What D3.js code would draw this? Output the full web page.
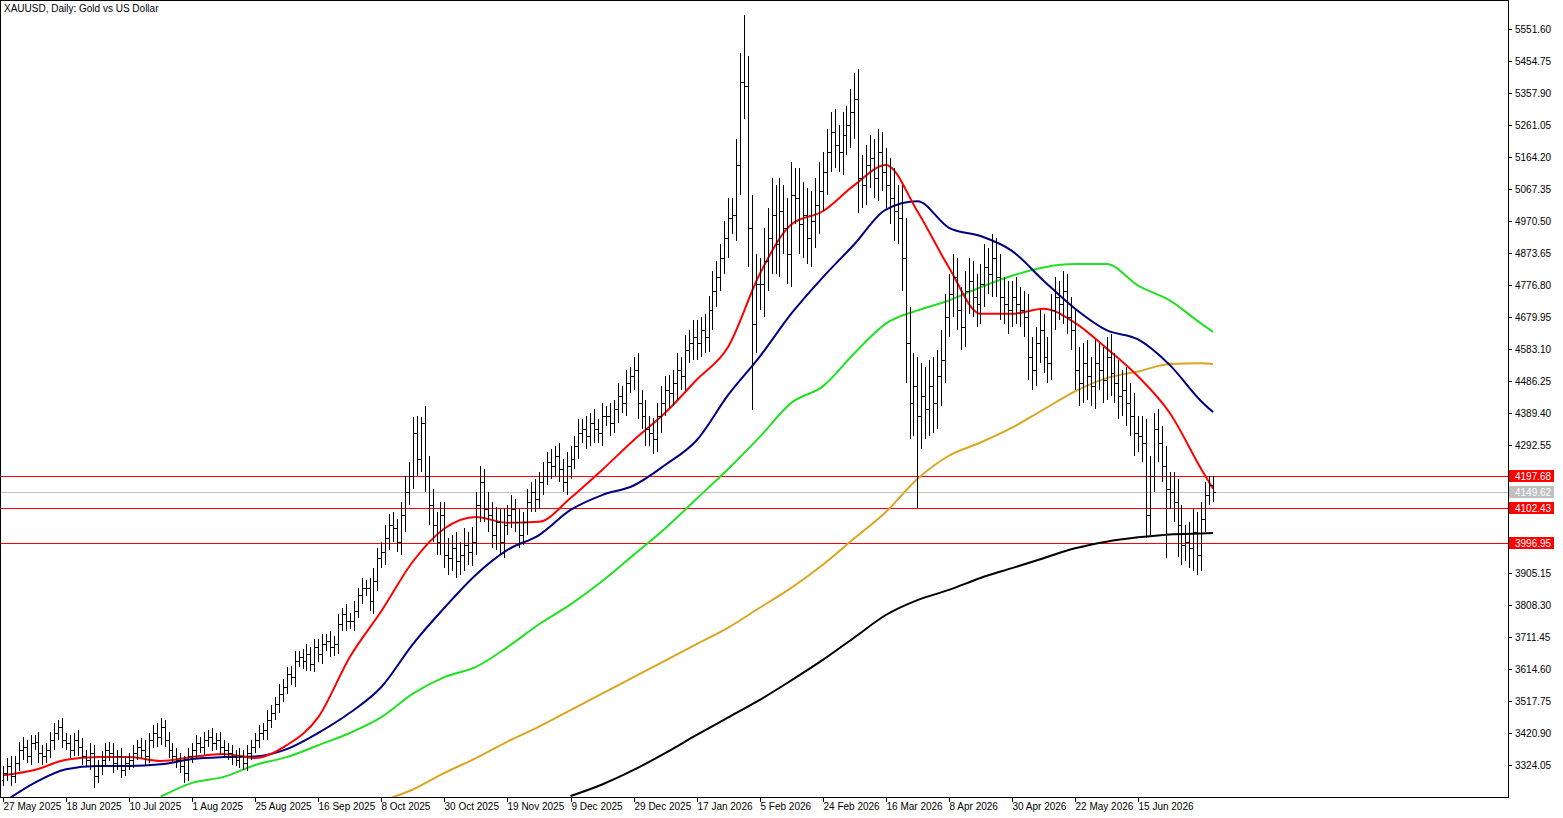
<!DOCTYPE html>
<html><head><meta charset="utf-8">
<script src="https://cdn.jsdelivr.net/npm/d3@7/dist/d3.min.js"></script>
<style>body{margin:0;background:#fff}svg{display:block}text{font-family:"Liberation Sans",Arial,sans-serif;font-size:10px}</style>
</head><body><svg id="c" width="1563" height="818"></svg>
<script>
const title = "XAUUSD, Daily:  Gold vs US Dollar";
const closes = [
3300,3320,3290,3330,3370,3380,3350,3390,3395,3360,3350,3370,3400,3420,3440,3400,
3390,3370,3400,3380,3350,3340,3360,3290,3320,3340,3370,3360,3330,3350,3310,3330,
3340,3360,3380,3370,3350,3400,3420,3410,3440,3400,3370,3350,3340,3320,3300,3350,
3370,3390,3380,3400,3410,3390,3400,3380,3370,3360,3350,3340,3350,3330,3360,3380,
3400,3420,3430,3460,3480,3510,3540,3560,3600,3590,3640,3650,3640,3660,3630,3680,
3660,3690,3700,3680,3690,3750,3780,3760,3760,3790,3840,3860,3860,3820,3880,3950,
3970,4010,4050,4040,4000,4080,4150,4200,4330,4250,4360,4200,4110,4050,4000,4080,
3960,3950,3980,3940,3960,3990,3970,4000,4110,4180,4100,4080,4020,4060,4000,4050,
4080,4100,4060,4020,4060,4120,4150,4130,4180,4200,4240,4230,4260,4220,4180,4230,
4250,4290,4330,4340,4320,4360,4340,4330,4380,4380,4360,4400,4440,4420,4480,4500,
4520,4420,4380,4340,4330,4310,4380,4420,4460,4450,4480,4520,4500,4580,4600,4620,
4600,4640,4620,4700,4760,4800,4860,4920,4980,4990,5140,5390,5380,4950,4660,4780,
4780,4850,4920,4990,4900,5000,4950,4870,5050,5040,4960,4990,4920,4970,5020,5060,
5120,5180,5240,5200,5180,5230,5260,5300,5340,5100,5080,5140,5160,5100,5180,5120,
5080,5040,5000,4980,4860,4600,4420,4470,4380,4440,4400,4470,4420,4500,4550,4680,
4750,4800,4700,4650,4760,4790,4740,4720,4780,4830,4810,4860,4800,4740,4720,4700,
4740,4720,4700,4680,4560,4520,4600,4640,4560,4540,4700,4740,4720,4760,4680,4640,
4520,4480,4540,4500,4470,4540,4520,4490,4560,4510,4480,4440,4460,4420,4380,4330,
4320,4300,4080,4200,4340,4300,4230,4160,4150,4120,4050,3990,4000,3980,4030,3960,4070,4140,4170,4150];
const wicks = [
20,25,30,20,25,30,20,25,20,30,25,20,25,30,20,25,
20,25,20,30,25,20,30,25,20,25,20,25,30,20,25,20,
20,25,20,25,30,20,25,30,25,20,25,20,25,20,30,25,
20,25,20,25,20,25,20,25,20,20,25,20,25,20,25,20,
20,25,20,30,25,20,30,25,20,25,30,20,25,30,20,25,
25,30,20,30,25,30,20,30,25,30,20,30,25,30,40,30,
30,40,35,40,30,40,50,40,40,50,40,50,60,50,40,40,
40,50,40,50,40,50,40,45,40,50,40,50,40,45,40,50,
30,40,30,40,30,40,30,40,30,40,30,40,30,40,30,40,
40,30,40,30,40,30,40,30,40,30,40,30,40,30,40,30,
40,50,40,50,40,45,40,50,40,45,40,50,40,45,40,50,
50,40,50,45,60,50,40,50,60,50,80,90,100,120,100,90,
80,100,90,110,90,100,80,90,100,80,90,100,80,90,80,90,
60,70,60,70,60,70,60,70,80,90,70,60,70,60,70,60,
70,80,90,80,100,120,110,100,90,100,90,80,90,80,90,70,
60,70,60,70,60,70,60,70,60,70,60,70,60,70,60,70,
50,60,50,60,70,60,50,60,50,60,50,60,50,60,50,60,
60,70,60,70,60,70,60,70,60,70,60,70,60,70,60,70,
50,60,70,60,50,60,50,60,50,60,70,60,50,60,70,60,50,40,30,30];
const highOverrides = [[104,4377],[106,4377],[188,5594],[189,5470],[216,5418]];
const lowOverrides = [[23,3255],[190,4398],[217,4995],[232,4102],[295,3950],[298,3955]];

const maIdx = [0,8,16,24,32,40,48,56,64,72,80,88,96,104,112,120,128,136,144,152,160,168,176,184,192,200,208,216,224,232,240,248,256,264,272,280,288,296,304,307];
const maRed = [3293,3309,3340,3348,3348,3336,3348,3357,3345,3384,3469,3651,3790,3940,4040,4075,4057,4060,4132,4217,4307,4390,4490,4590,4810,4960,5000,5079,5140,5000,4830,4690,4690,4705,4662,4585,4500,4390,4220,4160];
const maBlue = [3210,3270,3311,3321,3321,3326,3342,3348,3350,3372,3421,3482,3560,3690,3800,3900,3975,4020,4096,4141,4170,4232,4307,4444,4560,4690,4800,4900,5005,5030,4950,4925,4880,4790,4705,4640,4612,4535,4425,4392];
const maGreen = [null,null,null,null,null,3228,3270,3288,3324,3348,3384,3421,3469,3540,3590,3621,3681,3750,3810,3880,3960,4040,4130,4220,4317,4420,4470,4570,4660,4700,4730,4770,4805,4830,4840,4840,4775,4730,4660,4635];
const maOrange = [null,null,null,null,null,null,null,null,null,null,null,null,3215,3250,3300,3345,3395,3440,3490,3540,3590,3640,3690,3740,3800,3860,3930,4010,4090,4190,4260,4300,4345,4400,4455,4495,4515,4538,4540,4538];
const maBlack = [null,null,null,null,null,null,null,null,null,null,null,null,null,null,null,null,null,null,3230,3265,3309,3360,3415,3468,3521,3580,3642,3710,3778,3823,3854,3890,3920,3950,3980,4000,4013,4022,4025,4026];

const levels = [4197.68,4102.43,3996.95];
const currentPrice = 4149.62;
const yTicks = [3324.05,3420.90,3517.75,3614.60,3711.45,3808.30,3905.15,4292.55,4389.40,4486.25,4583.10,4679.95,4776.80,4873.65,4970.50,5067.35,5164.20,5261.05,5357.90,5454.75,5551.60];
const xTickIdx = [0,16,32,48,64,80,96,112,128,144,160,176,192,208,224,240,256,272,288];
const xTickLabels = ['27 May 2025','18 Jun 2025','10 Jul 2025','1 Aug 2025','25 Aug 2025','16 Sep 2025','8 Oct 2025','30 Oct 2025','19 Nov 2025','9 Dec 2025','29 Dec 2025','17 Jan 2026','5 Feb 2026','24 Feb 2026','16 Mar 2026','8 Apr 2026','30 Apr 2026','22 May 2026','15 Jun 2026'];

const W=1508,H=797;
const svg=d3.select('#c');
const x=d3.scaleLinear().domain([0,307]).range([3,1213]);
const y=d3.scaleLinear().domain([3324.05,5551.6]).range([765,29]);
svg.append('defs').append('clipPath').attr('id','cp').append('rect').attr('x',1).attr('y',1).attr('width',W-1).attr('height',H-1);
const g=svg.append('g').attr('clip-path','url(#cp)');

// level lines
levels.forEach(v=>g.append('line').attr('x1',0).attr('x2',W).attr('y1',Math.round(y(v))+0.5).attr('y2',Math.round(y(v))+0.5).attr('stroke','#ff0000'));
g.append('line').attr('x1',0).attr('x2',W).attr('y1',Math.round(y(currentPrice))+0.5).attr('y2',Math.round(y(currentPrice))+0.5).attr('stroke','#c0c0c0');

// MAs
const line=d3.line().defined(d=>d[1]!=null).x(d=>x(d[0])).y(d=>y(d[1])).curve(d3.curveMonotoneX);
[[maOrange,'#daa520'],[maBlack,'#000000'],[maGreen,'#22e022'],[maBlue,'#000080'],[maRed,'#ff0000']].forEach(([arr,col])=>{
  g.append('path').attr('d',line(maIdx.map((i,k)=>[i,arr[k]]))).attr('fill','none').attr('stroke',col).attr('stroke-width',2);
});

// bars
const hmap=new Map(highOverrides), lmap=new Map(lowOverrides);
const bars=g.append('g').attr('stroke','#000').attr('shape-rendering','crispEdges');
closes.forEach((c,i)=>{
  const o=i>0?closes[i-1]:c-20;
  const hi=hmap.has(i)?hmap.get(i):Math.max(o,c)+wicks[i];
  const lo=lmap.has(i)?lmap.get(i):Math.min(o,c)-wicks[i];
  const xi=Math.round(x(i))+0.5;
  bars.append('line').attr('x1',xi).attr('x2',xi).attr('y1',y(hi)).attr('y2',y(lo));
  bars.append('line').attr('x1',xi-2).attr('x2',xi).attr('y1',Math.round(y(o))+0.5).attr('y2',Math.round(y(o))+0.5);
  bars.append('line').attr('x1',xi).attr('x2',xi+2).attr('y1',Math.round(y(c))+0.5).attr('y2',Math.round(y(c))+0.5);
});

// frame
svg.append('rect').attr('x',0.5).attr('y',0.5).attr('width',W).attr('height',H).attr('fill','none').attr('stroke','#000');
svg.append('text').attr('x',4).attr('y',12).text(title);

// right axis
const ya=svg.append('g');
yTicks.forEach(v=>{const yy=Math.round(y(v))+0.5;
  ya.append('line').attr('x1',W).attr('x2',W+4).attr('y1',yy).attr('y2',yy).attr('stroke','#000');
  ya.append('text').attr('x',W+7).attr('y',yy+3.5).text(v.toFixed(2));});
levels.concat([currentPrice]).forEach((v,k)=>{const yy=Math.round(y(v));
  const col=k<3?'#ff0000':'#c0c0c0';
  ya.append('rect').attr('x',W+1).attr('y',yy-6).attr('width',45).attr('height',12).attr('fill',col);
  ya.append('text').attr('x',W+7).attr('y',yy+3.5).attr('fill','#fff').text(v.toFixed(2));});

// bottom axis
const xa=svg.append('g');
xTickIdx.forEach((i,k)=>{const xx=Math.round(x(i))+0.5;
  xa.append('line').attr('x1',xx).attr('x2',xx).attr('y1',H).attr('y2',H+5).attr('stroke','#000');
  xa.append('text').attr('x',xx).attr('y',H+13).text(xTickLabels[k]);});
</script></body></html>
